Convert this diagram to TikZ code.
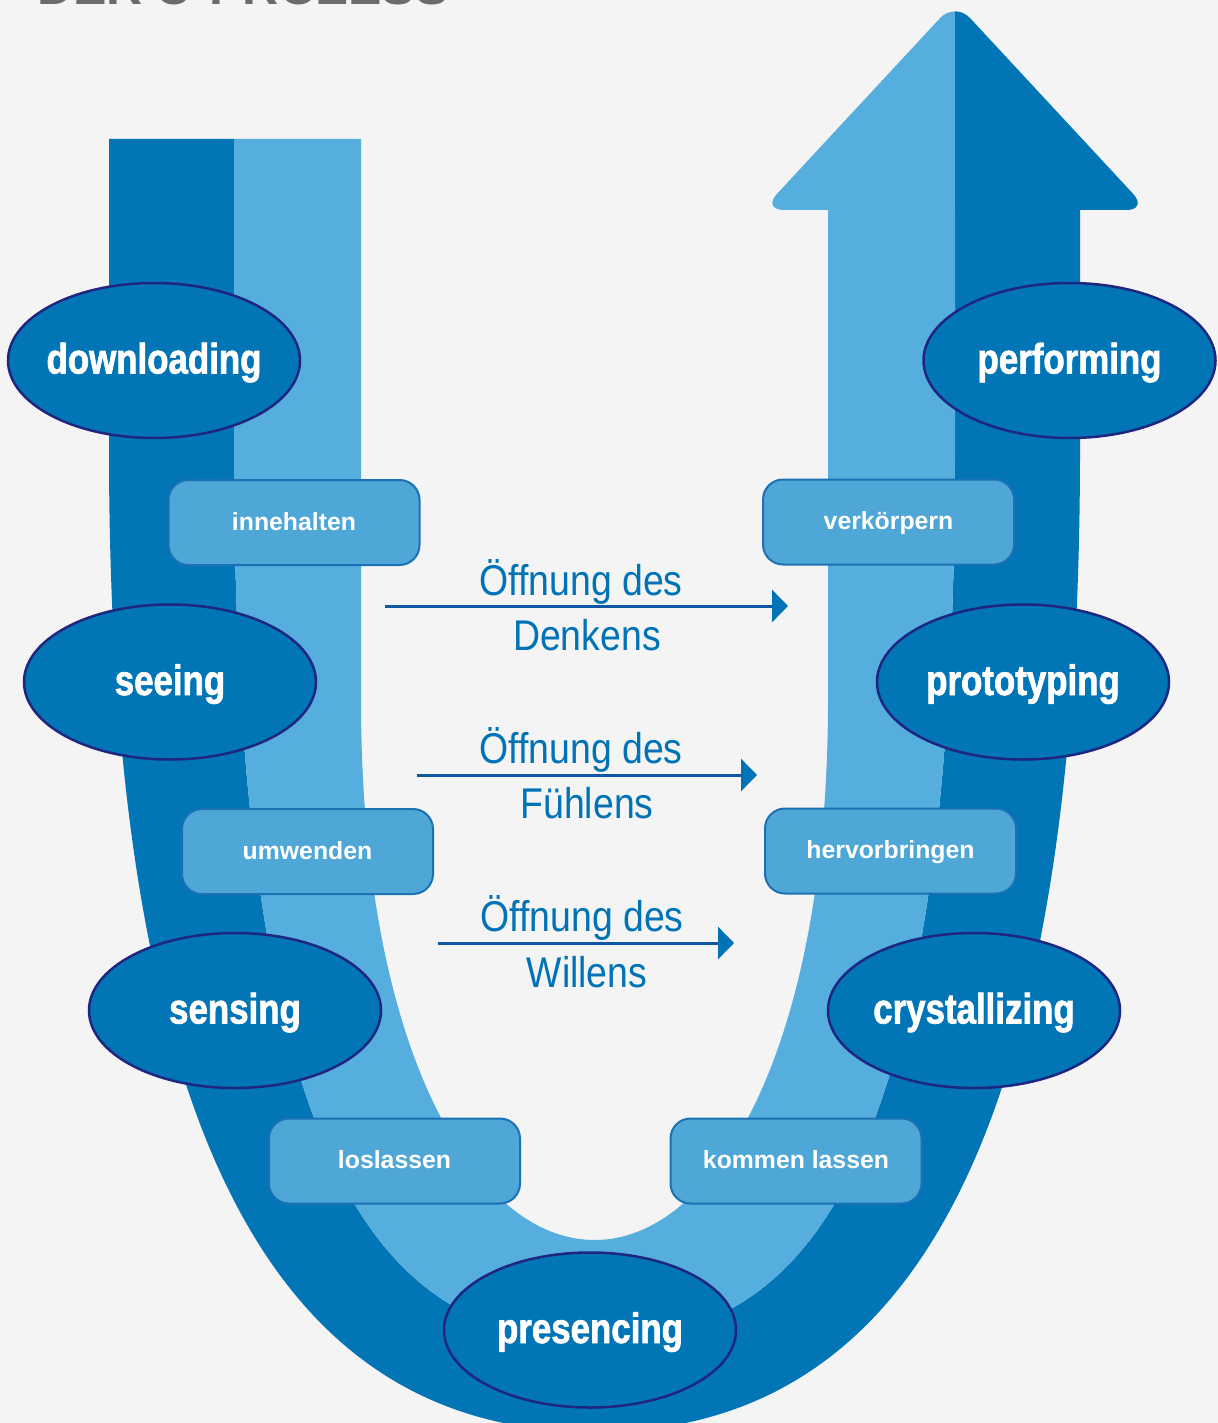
\documentclass[tikz,border=0pt]{standalone}
\usepackage{fontspec}
\setmainfont{Liberation Sans}
\newfontfamily\labelfont[FakeStretch=0.82,BoldFeatures={FakeBold=1.6}]{Liberation Sans}
\newfontfamily\openfont[FakeStretch=0.87]{Liberation Sans}
\usetikzlibrary{shapes.geometric,arrows.meta}
\definecolor{bgc}{RGB}{244,244,244}
\definecolor{ublue}{RGB}{1,117,182}
\definecolor{ulight}{RGB}{85,174,221}
\definecolor{navyc}{RGB}{30,38,128}
\definecolor{boxfill}{RGB}{78,167,214}
\definecolor{boxline}{RGB}{28,112,180}
\definecolor{opc}{RGB}{0,114,182}
\definecolor{arrc}{RGB}{12,88,164}
\definecolor{titlec}{RGB}{107,107,107}
\begin{document}
\begin{tikzpicture}[x=0.5pt,y=-0.5pt,
  stage/.style={ellipse, draw=navyc, line width=1.25pt, fill=ublue,
    minimum width=146pt, minimum height=77.5pt, inner sep=0pt},
  stagetxt/.style={text=white, inner sep=0pt,
    font=\labelfont\bfseries\fontsize{21.25pt}{24pt}\selectfont,
    text height=16pt, text depth=3pt},
  act/.style={rectangle, rounded corners=10pt, draw=boxline, line width=1pt,
    fill=boxfill, minimum width=125.5pt, minimum height=42.5pt, inner sep=0pt,
    text=white, font=\bfseries\fontsize{12.4pt}{14pt}\selectfont,
    text height=9pt, text depth=1.5pt},
  opening/.style={text=opc, inner sep=0pt, anchor=base,
    font=\openfont\fontsize{21.5pt}{24pt}\selectfont},
  openarrow/.style={draw=arrc, line width=1.5pt,
    -{Triangle[length=8pt,width=16pt,color=opc]}}
]
\fill[bgc] (0,0) rectangle (1218,1423);
\useasboundingbox (0,0) rectangle (1218,1423);

% title (cut off at the top)
\node[anchor=base west, inner sep=0pt, text=titlec,
  font=\bfseries\fontsize{25pt}{30pt}\selectfont] (title) at (37,5) {DER U-PROZESS};

% dark outer band of the U
\fill[ublue] (109,139) -- (109,450)
  .. controls (109,1150) and (284.5,1432) .. (594.5,1432)
  .. controls (904.5,1432) and (1080,1150) .. (1080,450)
  -- (1080,205) -- (955,205) -- (955,450)
  .. controls (955,1200) and (794.5,1340) .. (594.5,1340)
  .. controls (394.5,1340) and (234,1200) .. (234,450)
  -- (234,139) -- cycle;
% light inner band of the U
\fill[ulight] (234,139) -- (234,450)
  .. controls (234,1200) and (394.5,1340) .. (594.5,1340)
  .. controls (794.5,1340) and (955,1200) .. (955,450)
  -- (955,205) -- (828,205) -- (828,700)
  .. controls (828,1050) and (714.5,1240) .. (594.5,1240)
  .. controls (474.5,1240) and (361,1050) .. (361,700)
  -- (361,139) -- cycle;
% arrow head
\fill[ulight, rounded corners=11pt] (762,210) -- (955,2) -- (1148,210) -- cycle;
\begin{scope}
  \clip (955,-20) rectangle (1218,230);
  \fill[ublue, rounded corners=11pt] (762,210) -- (955,2) -- (1148,210) -- cycle;
\end{scope}

% stages
\node[stage] (down) at (154,360.5) {};
\node[stagetxt] (downT) at (down) {downloading};
\node[stage] (see) at (170,682) {};
\node[stagetxt] (seeT) at (see) {seeing};
\node[stage] (sens) at (235,1010.5) {};
\node[stagetxt] (sensT) at (sens) {sensing};
\node[stage] (pres) at (590,1330) {};
\node[stagetxt] (presT) at (pres) {presencing};
\node[stage] (cryst) at (974,1010.5) {};
\node[stagetxt] (crystT) at (cryst) {crystallizing};
\node[stage] (proto) at (1023,682) {};
\node[stagetxt] (protoT) at (proto) {prototyping};
\node[stage] (perf) at (1069.5,360.5) {};
\node[stagetxt] (perfT) at (perf) {performing};

% activities
\node[act] (inne) at (294,522.5) {innehalten};
\node[act] (umw) at (307.5,851.5) {umwenden};
\node[act] (los) at (394.5,1161) {loslassen};
\node[act] (komm) at (796,1161) {kommen lassen};
\node[act] (herv) at (890.5,851) {hervorbringen};
\node[act] (verk) at (888.5,522) {verkörpern};

% openings
\coordinate (a1s) at (385,606);
\coordinate (a1e) at (788,606);
\draw[openarrow] (a1s) -- (a1e);
\node[opening] (a1t) at (581,595) {Öffnung des};
\node[opening] (a1b) at (587,650) {Denkens};

\coordinate (a2s) at (417,775);
\coordinate (a2e) at (757,775);
\draw[openarrow] (a2s) -- (a2e);
\node[opening] (a2t) at (581,763) {Öffnung des};
\node[opening] (a2b) at (587,818) {Fühlens};

\coordinate (a3s) at (438,943);
\coordinate (a3e) at (734,943);
\draw[openarrow] (a3s) -- (a3e);
\node[opening] (a3t) at (582,931) {Öffnung des};
\node[opening] (a3b) at (587,987) {Willens};
\end{tikzpicture}
\end{document}
